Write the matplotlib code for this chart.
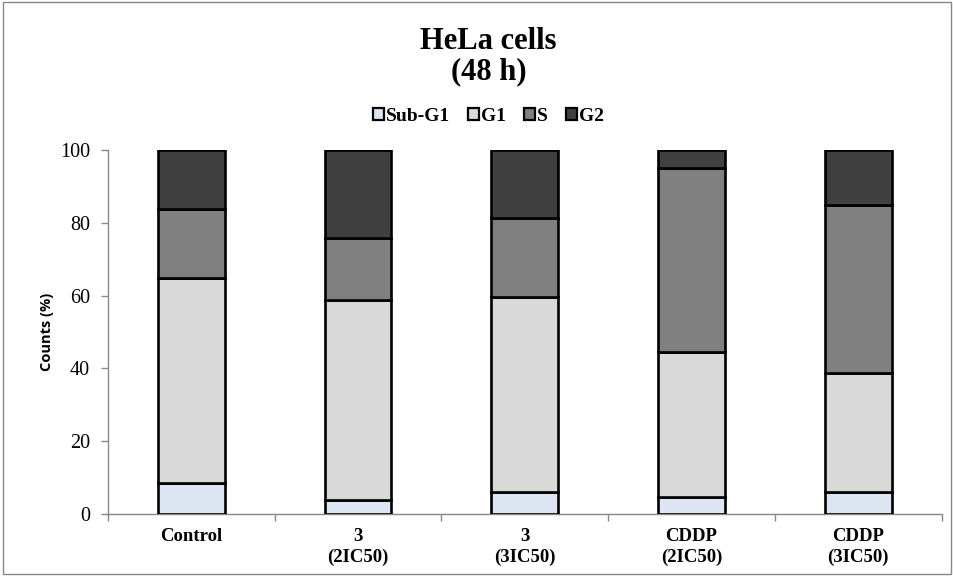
import matplotlib.pyplot as plt
import numpy as np
from matplotlib.patches import Rectangle


# Cell cycle distribution, HeLa cells after 48 h
groups = ['Control', '3\n(2IC50)', '3\n(3IC50)', 'CDDP\n(2IC50)', 'CDDP\n(3IC50)']
phases = ['Sub-G1', 'G1', 'S', 'G2']
sub_g1 = [8.5, 3.8, 6.0, 4.7, 6.0]
g1 = [56.3, 55.0, 53.6, 39.8, 32.7]
s_phase = [19.0, 17.0, 21.7, 50.5, 46.2]
g2 = [16.2, 24.2, 18.7, 5.0, 15.1]
colors = ['#dde5f2', '#d9d9d9', '#808080', '#404040']

SERIF = 'Liberation Serif'

fig = plt.figure(figsize=(9.54, 5.76), dpi=100)
ax = fig.add_axes([0.1132, 0.1076, 0.8738, 0.632])

x = np.arange(len(groups))
bottom = np.zeros(len(groups))
for name, vals, c in zip(phases, [sub_g1, g1, s_phase, g2], colors):
    ax.bar(x, vals, 0.4, bottom=bottom, color=c, edgecolor='black',
           linewidth=1.9, label=name, zorder=3)
    bottom += np.array(vals)

ax.set_xlim(-0.5, len(groups) - 0.5)
ax.set_ylim(0, 100)
ax.set_yticks(range(0, 101, 20))
ax.set_xticks(x)
ax.set_xticklabels(groups, fontfamily=SERIF, fontweight='bold', fontsize=13.5,
                   linespacing=1.3)
ax.set_xticks(np.arange(-0.5, len(groups)), minor=True)
ax.tick_params(axis='x', which='major', length=0, pad=10)
ax.tick_params(axis='x', which='minor', length=5, color='#888888', width=1)
ax.tick_params(axis='y', length=5, color='#888888', width=1, labelsize=14.5, pad=8)
for lab in ax.get_yticklabels():
    lab.set_fontfamily(SERIF)

for side in ['top', 'right']:
    ax.spines[side].set_visible(False)
for side in ['left', 'bottom']:
    ax.spines[side].set_color('#888888')
    ax.spines[side].set_linewidth(1)

ax.set_ylabel('Counts (%)', fontfamily='Open Sans', fontweight='bold',
              fontsize=10.5, labelpad=4)

fig.text(0.512, 0.902, 'HeLa cells\n(48 h)', ha='center', va='center',
         fontfamily=SERIF, fontweight='bold', fontsize=22, linespacing=1.08)

leg = fig.legend(loc='center', bbox_to_anchor=(0.512, 0.798), ncol=4,
                 frameon=False, handlelength=0.6, handleheight=0.6,
                 handletextpad=0.1, columnspacing=0.9,
                 prop={'family': SERIF, 'weight': 'bold', 'size': 14})
for h in leg.legend_handles:
    h.set_linewidth(1.6)

# chart area border
fig.patches.append(Rectangle((0.003, 0.003), 0.994, 0.994, transform=fig.transFigure,
                             fill=False, edgecolor='#888888', linewidth=1))

fig.savefig('out.png', dpi=100)
